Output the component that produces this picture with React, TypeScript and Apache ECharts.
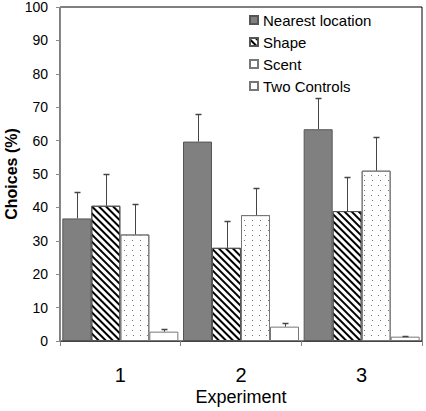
import React, { useEffect, useRef } from "react";
import * as echarts from "echarts";

const categories = ["1", "2", "3"];
const seriesNames = ["Nearest location", "Shape", "Scent", "Two Controls"];
const nearest = [36.7, 59.7, 63.4];
const nearestErr = [8.0, 8.2, 9.3];
const shape = [40.5, 27.9, 38.9];
const shapeErr = [9.5, 8.0, 10.3];
const scent = [31.9, 37.7, 51.0];
const scentErr = [9.0, 8.0, 10.2];
const controls = [2.8, 4.3, 1.3];
const controlsErr = [0.7, 1.0, 0.3];
const yMin = 0;
const yMax = 100;
const yInterval = 10;

const FONT = "'Liberation Sans', Arial, sans-serif";
const BAR_W = 29;

export default function App() {
  const ref = useRef<HTMLDivElement>(null);
  useEffect(() => {
    if (!ref.current) return;
    const chart = echarts.init(ref.current, null, { renderer: "svg" });
    const values = [nearest, shape, scent, controls];
    const errs = [nearestErr, shapeErr, scentErr, controlsErr];
    const styles: any[] = [
      { color: "#808080", borderColor: "#555", borderWidth: 1 },
      {
        color: "#fff",
        borderColor: "#555",
        borderWidth: 1,
        decal: {
          symbol: "rect",
          symbolSize: 1,
          dashArrayX: [1, 0],
          dashArrayY: [2, 2.2],
          rotation: Math.PI / 4,
          color: "#000",
          backgroundColor: "#fff",
        },
      },
      {
        color: "#fff",
        borderColor: "#777",
        borderWidth: 1,
        decal: {
          symbol: "rect",
          symbolSize: 1,
          dashArrayX: [
            [1, 6],
            [0, 3.5, 1, 2.5],
          ],
          dashArrayY: [1, 4],
          rotation: 0,
          color: "#777",
          backgroundColor: "#fff",
        },
      },
      { color: "#fff", borderColor: "#777", borderWidth: 1 },
    ];
    const barSeries = seriesNames.map((name, i) => ({
      name,
      type: "bar",
      barWidth: BAR_W,
      barGap: "0%",
      itemStyle: styles[i],
      data: values[i],
      z: 2,
    }));
    const errSeries = seriesNames.map((name, i) => ({
      name: name + " error",
      type: "custom",
      z: 3,
      data: categories.map((_, k) => [k, values[i][k], errs[i][k]]),
      renderItem: (params: any, api: any) => {
        const x = api.value(0);
        const v = api.value(1);
        const e = api.value(2);
        const base = api.coord([x, v]);
        const top = api.coord([x, v + e]);
        const cx = Math.round(base[0] + (i - 1.5) * BAR_W) + 0.5;
        const ty = Math.round(top[1]) + 0.5;
        return {
          type: "group",
          children: [
            {
              type: "line",
              shape: { x1: cx, y1: base[1], x2: cx, y2: ty },
              style: { stroke: "#444", lineWidth: 1 },
            },
            {
              type: "line",
              shape: { x1: cx - 3, y1: ty, x2: cx + 3, y2: ty },
              style: { stroke: "#444", lineWidth: 1.5 },
            },
          ],
        };
      },
    }));
    chart.setOption({
      animation: false,
      textStyle: { fontFamily: FONT },
      grid: {
        left: 60,
        right: 4,
        top: 7,
        bottom: 70,
        outerBoundsMode: "none",
        containLabel: false,
        show: true,
        borderColor: "#000",
        borderWidth: 1,
        backgroundColor: "transparent",
      },
      legend: {
        data: seriesNames,
        orient: "vertical",
        left: 249,
        top: 12,
        padding: 0,
        itemWidth: 8,
        itemHeight: 8,
        itemGap: 6,
        icon: "rect",
        textStyle: { fontSize: 15, color: "#000", fontFamily: FONT, lineHeight: 16 },
      },
      xAxis: {
        type: "category",
        data: categories,
        name: "Experiment",
        nameLocation: "middle",
        nameGap: 47,
        nameMoveOverlap: false,
        nameTextStyle: { fontSize: 18, color: "#000", fontFamily: FONT, lineHeight: 18, verticalAlign: "top" },
        axisLine: { lineStyle: { color: "#444", width: 1 } },
        axisTick: { show: true, length: 5, lineStyle: { color: "#888" } },
        axisLabel: { fontSize: 20, color: "#000", margin: 24, lineHeight: 20, fontFamily: FONT },
      },
      yAxis: {
        type: "value",
        min: yMin,
        max: yMax,
        interval: yInterval,
        name: "Choices (%)",
        nameLocation: "middle",
        nameGap: 40,
        nameMoveOverlap: false,
        nameTextStyle: { fontSize: 16, fontWeight: "bold", color: "#000", fontFamily: FONT, lineHeight: 18 },
        axisLine: { show: true, lineStyle: { color: "#888", width: 1 } },
        axisTick: { show: true, length: 4, lineStyle: { color: "#888" } },
        axisLabel: { fontSize: 14, color: "#000", margin: 12, fontFamily: FONT },
        splitLine: { show: false },
      },
      series: [...barSeries, ...errSeries],
    });
    return () => chart.dispose();
  }, []);
  return (
    <div
      ref={ref}
      style={{ position: "fixed", left: 0, top: 0, width: 426, height: 411, background: "#fff" }}
    />
  );
}
